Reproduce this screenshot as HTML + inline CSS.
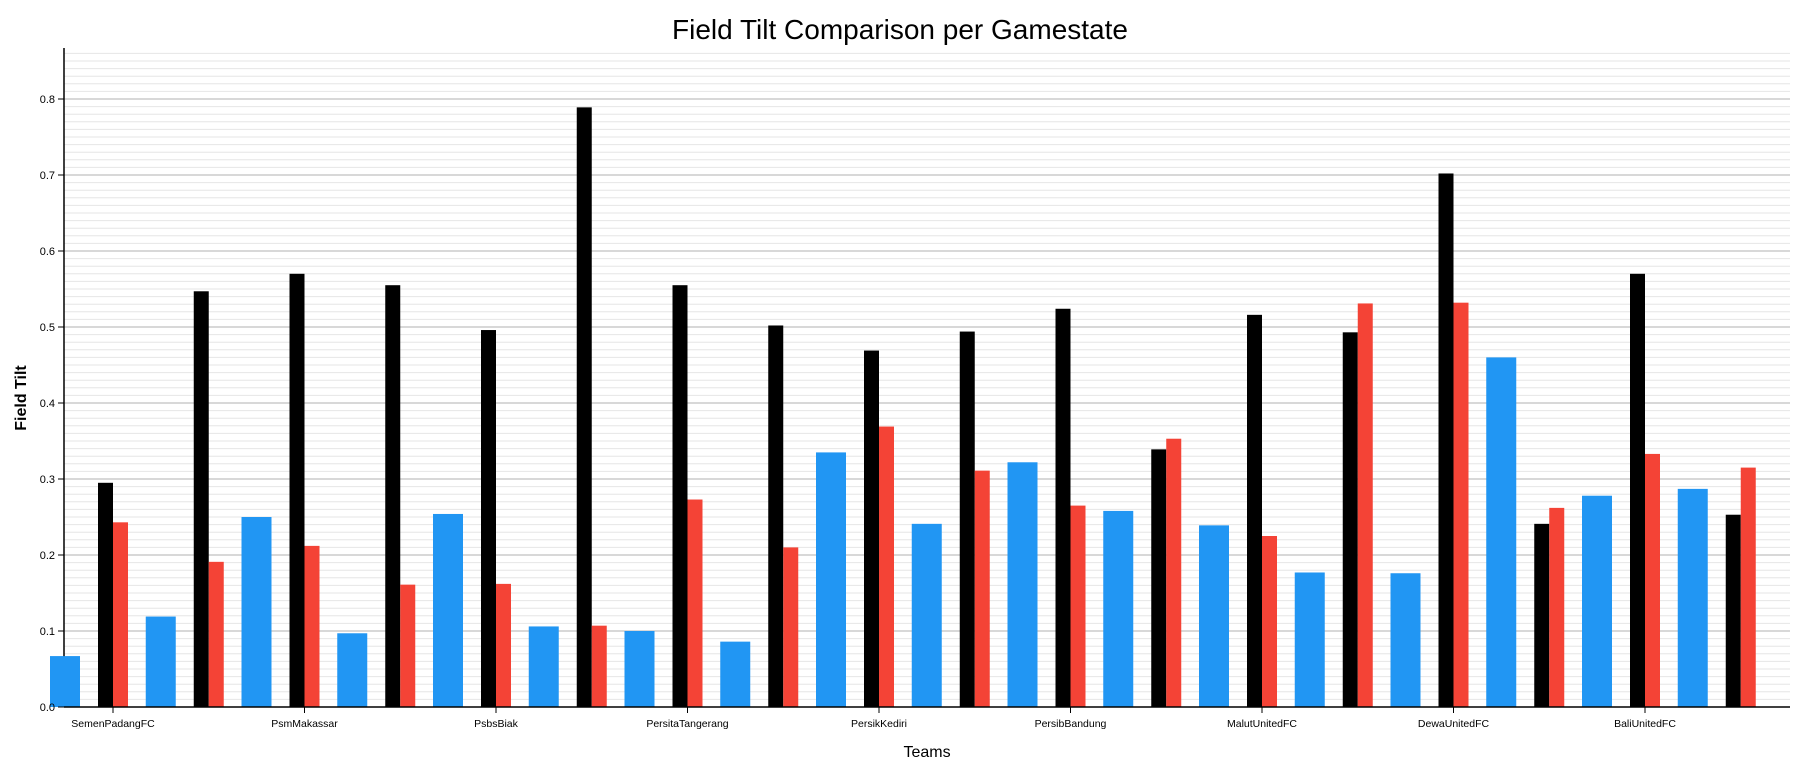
<!DOCTYPE html>
<html><head><meta charset="utf-8"><style>
html,body{margin:0;padding:0;background:#fff;}
svg{display:block;font-family:"Liberation Sans",Arial,sans-serif;}
</style></head><body>
<svg id="chart" width="1800" height="768">
<text x="900" y="39" text-anchor="middle" font-size="28">Field Tilt Comparison per Gamestate</text>
<g id="grid"></g>
<g id="yaxisg"></g>
<g id="bars"></g>
<g id="axes"></g>
<text x="927" y="757" text-anchor="middle" font-size="16">Teams</text>
<text transform="translate(26,398) rotate(-90)" text-anchor="middle" font-size="16" font-weight="bold">Field Tilt</text>
</svg>
<script>
const teams = ["SemenPadangFC","PsmMakassar","PsbsBiak","PersitaTangerang","PersikKediri","PersibBandung","MalutUnitedFC","DewaUnitedFC","BaliUnitedFC"];
const blueVals = [0.067,0.119,0.25,0.097,0.254,0.106,0.1,0.086,0.335,0.241,0.322,0.258,0.239,0.177,0.176,0.46,0.278,0.287];
const blackVals = [0.295,0.547,0.57,0.555,0.496,0.789,0.555,0.502,0.469,0.494,0.524,0.339,0.516,0.493,0.702,0.241,0.57,0.253];
const redVals = [0.243,0.191,0.212,0.161,0.162,0.107,0.273,0.21,0.369,0.311,0.265,0.353,0.225,0.531,0.532,0.262,0.333,0.315];
const yTicks = [0,0.1,0.2,0.3,0.4,0.5,0.6,0.7,0.8];
const yTickLabels = ["0.0","0.1","0.2","0.3","0.4","0.5","0.6","0.7","0.8"];

const NS="http://www.w3.org/2000/svg";
const X0=64, X1=1790, Y0=707, PPU=760, YMAX=0.86;
const y = v => Y0 - v*PPU;
const slotW = 95.75;
const pairX = i => 113 + i*slotW;
const blueX = i => 65 + i*slotW;
const teamX = k => pairX(2*k);
function el(tag, attrs, parent){const e=document.createElementNS(NS,tag);for(const k in attrs)e.setAttribute(k,attrs[k]);parent.appendChild(e);return e;}
const grid=document.getElementById('grid'), bars=document.getElementById('bars'), axes=document.getElementById('axes'), yag=document.getElementById('yaxisg');
for(let m=1;m<=Math.round(YMAX*100);m++){
  const v=m/100; const major = m%10===0;
  const l=el('line',{x1:X0,x2:X1,y1:y(v),y2:y(v),stroke:major?'#b0b0b0':'#e6e6e6','stroke-width':1},grid);
  
  
}
const ya=el('line',{x1:X0,x2:X0,y1:48,y2:Y0,stroke:'#000','stroke-width':1.5},yag);


blueVals.forEach((v,i)=>{
  const r=el('rect',{x:blueX(i)-15,y:y(v),width:30,height:v*PPU,fill:'#2196f3'},bars);
  
  
});
blackVals.forEach((v,i)=>{
  const r=el('rect',{x:pairX(i)-15,y:y(v),width:15,height:v*PPU,fill:'#000'},bars);
  
  
});
redVals.forEach((v,i)=>{
  const r=el('rect',{x:pairX(i),y:y(v),width:15,height:v*PPU,fill:'#f44336'},bars);
  
  
});
const xa=el('line',{x1:X0,x2:X1,y1:Y0,y2:Y0,stroke:'#000','stroke-width':1.5},axes);


yTicks.forEach((v,i)=>{
  el('line',{x1:X0-6,x2:X0,y1:y(v),y2:y(v),stroke:'#000'},axes);
  const t=el('text',{x:X0-9,y:y(v)+4,'text-anchor':'end','font-size':11},axes);
  t.textContent=yTickLabels[i];
  
  
});
teams.forEach((n,k)=>{
  el('line',{x1:teamX(k),x2:teamX(k),y1:Y0,y2:Y0+6,stroke:'#000'},axes);
  const t=el('text',{x:teamX(k),y:Y0+20,'text-anchor':'middle','font-size':10.5},axes);
  t.textContent=n;
  
  
});
</script>
</body></html>
